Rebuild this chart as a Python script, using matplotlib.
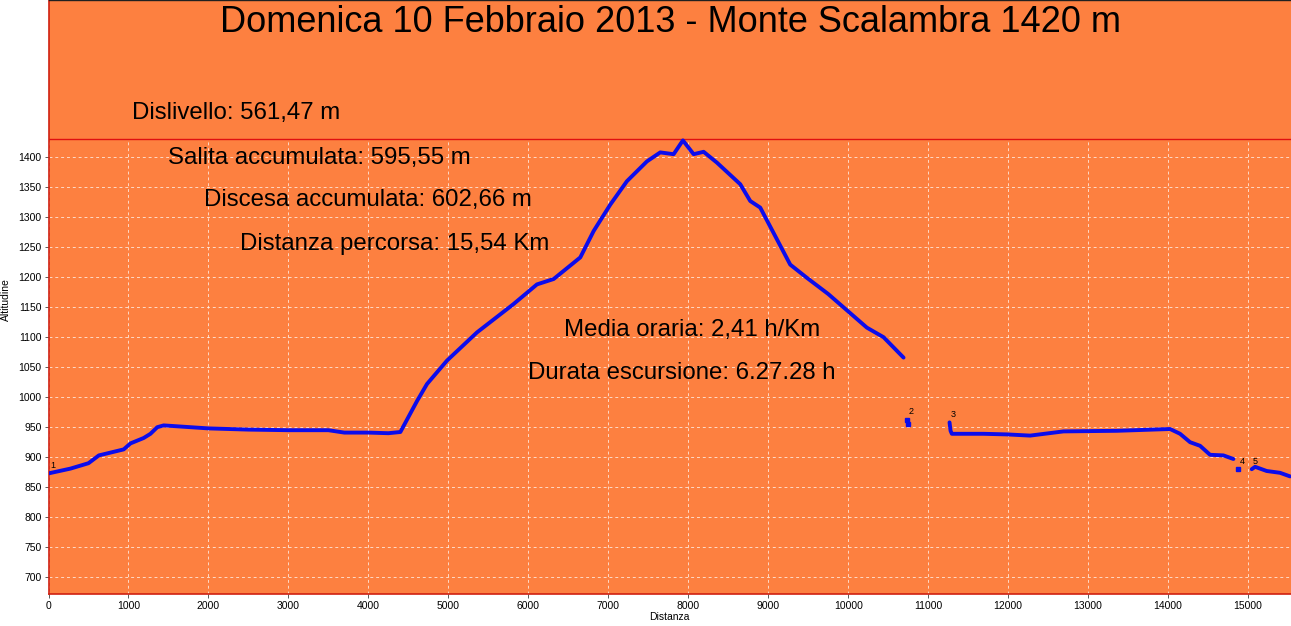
import matplotlib
matplotlib.use('Agg')
import matplotlib.pyplot as plt
import numpy as np

plt.rcParams['font.family'] = ['Liberation Sans', 'DejaVu Sans']

ORANGE = '#fd8040'
BLUE = '#0c0cec'

# track segments (distance in m, altitude in m)
seg1_x = [0, 275, 500, 630, 940, 1025, 1190, 1275, 1360, 1440, 2000, 2500, 3000, 3500, 3700,
          4000, 4250, 4400, 4525, 4610, 4733, 4983, 5358, 5813, 6108, 6317, 6650, 6817, 7025,
          7233, 7483, 7650, 7817, 7933, 8067, 8192, 8358, 8650, 8775, 8900, 9275, 9483, 9750,
          10233, 10442, 10692]
seg1_y = [873, 881, 890, 903, 913, 923, 932, 939, 950, 953, 948, 946, 945, 945, 941,
          941, 940, 942, 973, 994, 1022, 1061, 1108, 1155, 1188, 1197, 1233, 1277, 1321,
          1360, 1393, 1408, 1405, 1428, 1405, 1409, 1391, 1355, 1327, 1316, 1221, 1199, 1172,
          1116, 1100, 1066]
seg2_x = [10740, 10750]
seg2_y = [962, 955]
seg3_x = [11267, 11280, 11296, 11692, 11983, 12275, 12692, 13358, 14025, 14150, 14275,
          14400, 14525, 14692, 14817]
seg3_y = [958, 944, 939, 939, 938, 936, 943, 944, 947, 939, 925, 919, 904, 903, 897]
seg4_x = [14879]
seg4_y = [880]
seg5_x = [15046, 15088, 15233, 15400, 15525]
seg5_y = [880, 884, 877, 874, 868]
segments = [(seg1_x, seg1_y), (seg2_x, seg2_y), (seg3_x, seg3_y), (seg4_x, seg4_y), (seg5_x, seg5_y)]
seg_labels = ['1', '2', '3', '4', '5']

max_alt = 1431
x_ticks = list(range(0, 16000, 1000))
y_ticks = list(range(700, 1450, 50))

title = 'Domenica 10 Febbraio 2013 - Monte Scalambra 1420 m'
stats = [('Dislivello: 561,47 m', 132, 113),
         ('Salita accumulata: 595,55 m', 168, 158),
         ('Discesa accumulata: 602,66 m', 204, 200),
         ('Distanza percorsa: 15,54 Km', 240, 244),
         ('Media oraria: 2,41 h/Km', 564, 330),
         ('Durata escursione: 6.27.28 h', 528, 373)]

W, H = 1291, 626
fig = plt.figure(figsize=(W / 100, H / 100), dpi=100)
fig.patch.set_facecolor('white')
ax = fig.add_axes([48.5 / W, 32 / H, 1 - 48.5 / W, 1 - 32 / H])
ax.set_facecolor(ORANGE)
ax.set_xlim(0, 15537)
ax.set_ylim(672, 1662)

# grid only below the max altitude line
ax.hlines(y_ticks, 0, 15537, colors='white', linestyles=(0, (3, 3)), linewidth=0.7, alpha=0.7, zorder=1)
ax.vlines(x_ticks, 672, max_alt, colors='white', linestyles=(0, (3, 3)), linewidth=0.7, alpha=0.7, zorder=1)
ax.axhline(max_alt, color='#e01010', linewidth=1.0, zorder=2)

for (sx, sy), lab in zip(segments, seg_labels):
    mk = 's' if len(sx) <= 2 else None
    ax.plot(sx, sy, color=BLUE, linewidth=2.8, marker=mk, markersize=3,
            solid_joinstyle='round', solid_capstyle='round', zorder=3)
    ax.annotate(lab, (sx[0], sy[0]), xytext=(1, 4), textcoords='offset points',
                fontsize=6.5, color='black', zorder=4)

ax.set_xticks(x_ticks)
ax.set_yticks(y_ticks)
ax.tick_params(axis='both', labelsize=7.5, length=3, width=0.6, color='#404040', pad=2)
for sp in ['left', 'bottom']:
    ax.spines[sp].set_color('#d02010')
    ax.spines[sp].set_linewidth(1.2)
ax.spines['top'].set_color('#202020')
ax.spines['top'].set_linewidth(1.0)
ax.spines['right'].set_visible(False)

ax.set_xlabel('Distanza', fontsize=7.5, labelpad=1)
fig.text(6 / W, 1 - 300 / H, 'Altitudine', rotation=90, fontsize=7.5, ha='center', va='center')

fig.text(671 / W, 1 - 23 / H, title, fontsize=26, ha='center', va='center')
for txt, px, py in stats:
    fig.text(px / W, 1 - py / H, txt, fontsize=17.3, ha='left', va='center')

fig.savefig('out.png', dpi=100, facecolor=fig.get_facecolor())
